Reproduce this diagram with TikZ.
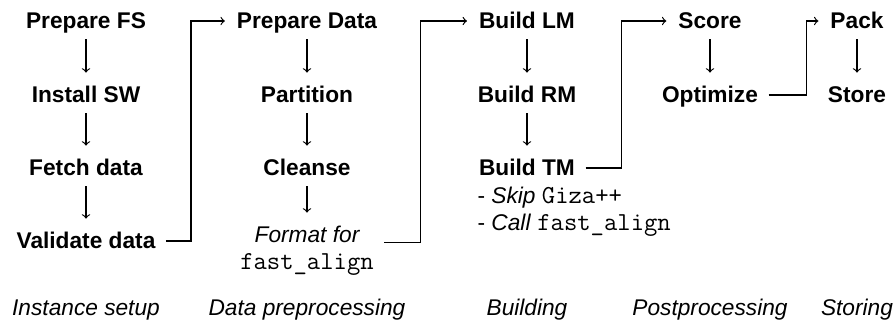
\documentclass[tikz,border=0pt]{standalone}
\usepackage{fontspec}
\setmainfont{Liberation Sans}
\newcommand{\code}[1]{{\fontsize{12.95pt}{13.5pt}\selectfont\ttfamily #1}}
\tikzset{
    stage/.style={font=\bfseries, inner sep=2pt, text height=0.8em, text depth=0.15em},
    phase/.style={font=\itshape},
    flow/.style={->, shorten <=1.5pt, shorten >=3.5pt},
    link/.style={->, shorten <=3pt, shorten >=3.75pt},
}
\begin{document}
\fontsize{11.35pt}{13.5pt}\selectfont
\begin{tikzpicture}[x=0.5pt, y=-0.5pt, line width=0.6pt]
            \useasboundingbox (0,0) rectangle (896,325);

            \node[stage] (pfs) at (86,21) {Prepare FS};
            \node[stage] (isw) at (86,95) {Install SW};
            \node[stage] (fd) at (86,168) {Fetch data};
            \node[stage] (vd) at (86,241) {Validate data};

            \node[stage] (pd) at (307,21) {Prepare Data};
            \node[stage] (part) at (307,95) {Partition};
            \node[stage] (cln) at (307,168) {Cleanse};
            \node[stage, font=\itshape] (fmt) at (307,235) {Format for};
            \node[stage, font=\normalfont] (fmtcode) at (307,262) {\code{fast\_align}};

            \node[stage] (lm) at (527,21) {Build LM};
            \node[stage] (rm) at (527,95) {Build RM};
            \node[stage] (tm) at (527,168) {Build TM};
            \node[anchor=north west, align=left, inner sep=0pt] (tmnote) at (477,186)
                {- \textit{Skip} \code{Giza++}\\- \textit{Call} \code{fast\_align}};

            \node[stage] (score) at (710,21) {Score};
            \node[stage] (opt) at (710,95) {Optimize};

            \node[stage] (pack) at (857,21) {Pack};
            \node[stage] (store) at (857,95) {Store};

            \node[phase] (setup) at (86,310) {Instance setup};
            \node[phase] (prep) at (307,310) {Data preprocessing};
            \node[phase] (build) at (527,310) {Building};
            \node[phase] (post) at (710,310) {Postprocessing};
            \node[phase] (storing) at (857,310) {Storing};

            \draw[flow] (pfs) to (isw); \draw[flow] (isw) to (fd); \draw[flow] (fd) to (vd);
            \draw[flow] (pd) to (part); \draw[flow] (part) to (cln); \draw[flow] (cln) to (fmt);
            \draw[flow] (lm) to (rm); \draw[flow] (rm) to (tm);
            \draw[flow] (score) to (opt);
            \draw[flow] (pack) to (store);

            \draw[link] (vd.east) -- ++(31,0) |- (pd.west);
            \draw[link] (fmtcode.east |- fmt.base) -- ++(42,0) |- (lm.west);
            \draw[link] (tm.east) -- ++(42,0) |- (score.west);
            \draw[link] (opt.east) -- ++(44,0) |- (pack.west);
        \end{tikzpicture}
\end{document}
